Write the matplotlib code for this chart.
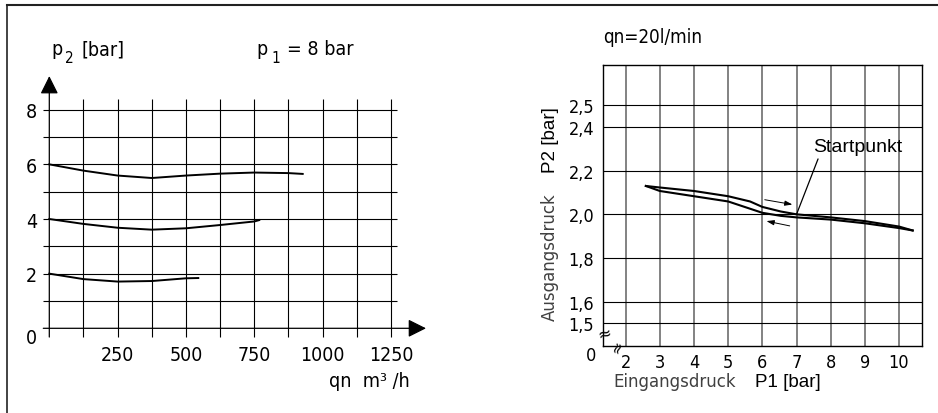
import matplotlib
matplotlib.use('Agg')
import matplotlib.pyplot as plt
from matplotlib.lines import Line2D

# left chart: p2 vs flow at p1 = 8 bar
flow_6 = [0, 125, 250, 375, 500, 625, 750, 875, 927]
p2_6 = [6.0, 5.77, 5.59, 5.50, 5.59, 5.66, 5.70, 5.68, 5.65]
flow_4 = [0, 125, 250, 375, 500, 625, 750, 768]
p2_4 = [4.0, 3.82, 3.68, 3.61, 3.66, 3.78, 3.91, 3.96]
flow_2 = [0, 125, 250, 375, 500, 545]
p2_2 = [2.0, 1.80, 1.71, 1.73, 1.83, 1.84]
flow_ticks = [250, 500, 750, 1000, 1250]
p2_ticks = [2, 4, 6, 8]

# right chart: p2 vs p1 at qn = 20 l/min (hysteresis)
p1_up = [2.59, 3, 4, 5, 5.64, 6, 6.54, 7, 8, 9, 10, 10.4]
p2_up = [2.130, 2.123, 2.107, 2.083, 2.059, 2.034, 2.013, 2.0, 1.986, 1.969, 1.944, 1.926]
p1_down = [2.59, 3, 4, 5, 6, 6.54, 7, 8, 9, 10, 10.4]
p2_down = [2.130, 2.107, 2.083, 2.059, 2.007, 1.993, 1.986, 1.976, 1.959, 1.937, 1.926]
p1_ticks = [2, 3, 4, 5, 6, 7, 8, 9, 10]
p2r_ticks = [1.5, 1.6, 1.8, 2.0, 2.2, 2.4, 2.5]

W, H = 938, 414
fig = plt.figure(figsize=(9.38, 4.14), dpi=100)


def fx(px):
    return px / W


def fy(py):
    return 1 - py / H


cond = dict(family='DejaVu Sans', fontstretch='condensed')

# frame lines (top and left only)
fig.add_artist(Line2D([fx(7), 1], [fy(6), fy(6)], color='#222222', lw=1.5))
fig.add_artist(Line2D([fx(7), fx(7)], [fy(6), 0], color='#222222', lw=1.2))

# ---------------- left chart ----------------
axl = fig.add_axes([fx(49.3), fy(329.3), (391 - 49.3) / W, (329.3 - 110.7) / H])
axl.set_xlim(0, 1250)
axl.set_ylim(0, 8)
axl.set_facecolor('none')
for s in axl.spines.values():
    s.set_visible(False)
axl.set_xticks(flow_ticks, [str(t) for t in flow_ticks], fontsize=14, **cond)
axl.set_yticks(p2_ticks, [str(t) for t in p2_ticks], fontsize=14, **cond)
axl.tick_params(axis='x', length=0, pad=12)
axl.tick_params(axis='y', length=0, pad=9)

axl.hlines(range(1, 9), -22, 1271, color='black', lw=0.8, clip_on=False)
axl.vlines(range(125, 1251, 125), -0.32, 8.39, color='black', lw=0.8, clip_on=False)
arrow = '-|>,head_length=1.1,head_width=0.55'
axl.annotate('', xy=(0, 9.23), xytext=(0, -0.32), annotation_clip=False,
             arrowprops=dict(arrowstyle=arrow, color='black', lw=0.9, shrinkA=0, shrinkB=0))
axl.annotate('', xy=(1378, 0), xytext=(-22, 0), annotation_clip=False,
             arrowprops=dict(arrowstyle=arrow, color='black', lw=0.9, shrinkA=0, shrinkB=0))

for xs, ys in [(flow_6, p2_6), (flow_4, p2_4), (flow_2, p2_2)]:
    axl.plot(xs, ys, color='black', lw=1.4, clip_on=False)

fig.text(fx(36.5), fy(338.3), '0', ha='right', va='center', size=14, **cond)
fig.text(fx(51.7), fy(55), 'p', ha='left', va='baseline', size=14, **cond)
fig.text(fx(65), fy(63.3), '2', ha='left', va='baseline', size=11, **cond)
fig.text(fx(81.7), fy(55), '[bar]', ha='left', va='baseline', size=14, **cond)
fig.text(fx(256), fy(55), 'p', ha='left', va='baseline', size=14, **cond)
fig.text(fx(271), fy(63.3), '1', ha='left', va='baseline', size=11, **cond)
fig.text(fx(286.7), fy(55), '= 8 bar', ha='left', va='baseline', size=14, **cond)
fig.text(fx(410), fy(386.7), 'qn  m³ /h', ha='right', va='baseline', size=14, **cond)

# ---------------- right chart ----------------
axr = fig.add_axes([fx(603.3), fy(347.3), (921.7 - 603.3) / W, (347.3 - 65.7) / H])
axr.set_xlim(1.344, 10.664)
axr.set_ylim(1.395, 2.686)
for s in axr.spines.values():
    s.set_linewidth(1.0)
axr.set_xticks(p1_ticks, [str(t) for t in p1_ticks], fontsize=13, **cond)
axr.set_yticks(p2r_ticks, [f'{t:.1f}'.replace('.', ',') for t in p2r_ticks], fontsize=13, **cond)
axr.tick_params(axis='x', length=0, pad=5)
axr.tick_params(axis='y', length=0, pad=6.5)
axr.vlines(p1_ticks, 1.395, 2.686, color='#606060', lw=1.1)
axr.hlines(p2r_ticks, 1.344, 10.664, color='black', lw=0.8)

axr.plot(p1_up, p2_up, color='black', lw=1.5)
axr.plot(p1_down, p2_down, color='black', lw=1.5)

axr.annotate('', xy=(7, 2.0), xytext=(7.63, 2.254),
             arrowprops=dict(arrowstyle='-', color='black', lw=0.9, shrinkA=0, shrinkB=0))
small = '-|>,head_length=0.45,head_width=0.15'
axr.annotate('', xy=(6.88, 2.045), xytext=(6.07, 2.067),
             arrowprops=dict(arrowstyle=small, color='black', lw=0.7, shrinkA=0, shrinkB=0))
axr.annotate('', xy=(6.12, 1.969), xytext=(6.80, 1.947),
             arrowprops=dict(arrowstyle=small, color='black', lw=0.7, shrinkA=0, shrinkB=0))

fig.text(fx(857.5), fy(148), 'Startpunkt', ha='center', va='center',
         family='Liberation Sans', size=14)
fig.text(fx(603.3), fy(43.3), 'qn=20l/min', ha='left', va='baseline', size=13.5, **cond)
fig.text(fx(596), fy(355.8), '0', ha='right', va='center', size=13, **cond)
fig.text(fx(604.5), fy(333.5), '≈', ha='center', va='center', size=12, rotation=15)
fig.text(fx(616.7), fy(346.7), '≈', ha='center', va='center', size=11, rotation=70)

fig.text(fx(550), fy(257.5), 'Ausgangsdruck', rotation=90, ha='center', va='center',
         size=12, color='#404040')
fig.text(fx(550), fy(140), 'P2 [bar]', rotation=90, ha='center', va='center',
         family='Liberation Sans', size=13.5)
fig.text(fx(675), fy(386.7), 'Eingangsdruck', ha='center', va='baseline',
         size=12, color='#404040')
fig.text(fx(787.5), fy(386.7), 'P1 [bar]', ha='center', va='baseline',
         family='Liberation Sans', size=13.5)

fig.savefig('out.png', dpi=100)
